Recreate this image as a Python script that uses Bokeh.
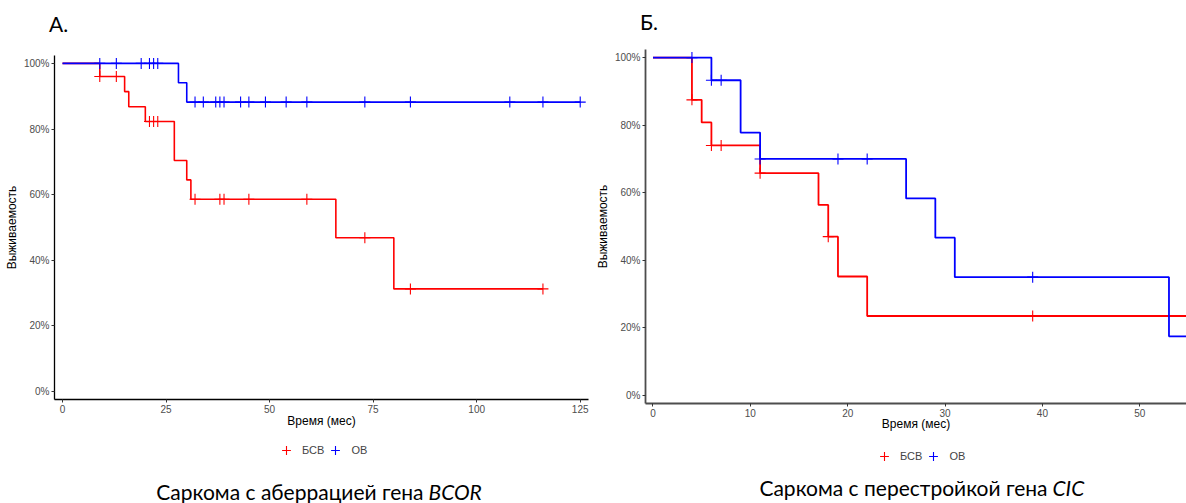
import numpy as np
from bokeh.plotting import figure
from bokeh.models import (Label, Legend, LegendItem, FixedTicker,
                          NumeralTickFormatter, Range1d, Div)
from bokeh.layouts import row, column
from bokeh.embed import file_html
from bokeh.resources import INLINE

RED = "#FF0000"
BLUE = "#0000FF"

# ---------------- Panel A: BCOR ----------------
a_bsv_time = [0, 9, 15, 16, 20, 27, 30, 31, 66, 80]
a_bsv_surv = [1.0, 0.96, 0.914, 0.868, 0.823, 0.704, 0.645, 0.586, 0.469, 0.313]
a_bsv_cens = [9, 13, 21, 22, 23, 32, 38, 39, 45, 59, 73, 84, 116]
a_bsv_end = 116

a_ov_time = [0, 28, 30]
a_ov_surv = [1.0, 0.941, 0.882]
a_ov_cens = [9, 13, 19, 21, 22, 23, 32, 34, 37, 38, 39, 43, 45, 49, 54, 59,
             73, 84, 108, 116, 125]
a_ov_end = 125

a_xticks = [0, 25, 50, 75, 100, 125]

# ---------------- Panel B: CIC ----------------
b_bsv_time = [0, 4, 5, 6, 11, 17, 18, 19, 22]
b_bsv_surv = [1.0, 0.875, 0.808, 0.740, 0.658, 0.564, 0.470, 0.352, 0.235]
b_bsv_cens = [4, 6, 7, 11, 18, 39]
b_bsv_end = 57

b_ov_time = [0, 6, 9, 11, 26, 29, 31, 53]
b_ov_surv = [1.0, 0.933, 0.778, 0.70, 0.583, 0.467, 0.35, 0.175]
b_ov_cens = [4, 6, 7, 11, 19, 22, 39]
b_ov_end = 57

b_xticks = [0, 10, 20, 30, 40, 50]

y_ticks = [0, 0.2, 0.4, 0.6, 0.8, 1.0]
series_labels = ["БСВ", "ОВ"]
series_colors = [RED, BLUE]

titles = [("Саркома с аберрацией гена", "BCOR"),
          ("Саркома с перестройкой гена", "CIC")]
letters = ["А.", "Б."]


def surv_at(times, surv, ts):
    idx = np.searchsorted(np.array(times), np.array(ts), side="right") - 1
    return [surv[i] for i in idx]


def strip(width, height, x0, x1, y0, y1):
    s = figure(width=width, height=height, x_range=Range1d(x0, x1),
               y_range=Range1d(y0, y1), output_backend="svg",
               toolbar_location=None, min_border=0, title=None)
    s.axis.visible = False
    s.xgrid.visible = False
    s.ygrid.visible = False
    s.outline_line_color = None
    s.background_fill_color = "white"
    s.border_fill_color = "white"
    return s


def letter_div(letter, width, height, pad_top, pad_left):
    html = ('<div style="padding:%dpx 0 0 %dpx;font-family:Lato;'
            'font-size:21px;line-height:21px;color:#000000;">%s</div>'
            % (pad_top, pad_left, letter))
    return Div(text=html, width=width, height=height, margin=0)


def make_panel(fw, fh, xr, borders, curves, xticks, axis_color, axis_w, lw,
               xlab_standoff):
    p = figure(frame_width=fw, frame_height=fh, x_range=Range1d(*xr),
               y_range=Range1d(-0.024, 1.024), output_backend="svg",
               toolbar_location=None, title=None,
               min_border_left=borders[0], min_border_right=borders[1],
               min_border_top=borders[2], min_border_bottom=borders[3])
    p.outline_line_color = None
    p.xgrid.visible = False
    p.ygrid.visible = False
    p.background_fill_color = "white"
    p.border_fill_color = "white"

    for (times, surv, cens, end, color) in curves:
        xs = list(times) + [end]
        ys = list(surv) + [surv[-1]]
        p.step(xs, ys, mode="after", line_color=color, line_width=lw)
        p.scatter(cens, surv_at(times, surv, cens), marker="cross",
                  size=11, line_color=color, line_width=1.1)

    for ax in (p.xaxis[0], p.yaxis[0]):
        ax.axis_line_color = axis_color
        ax.axis_line_width = axis_w
        ax.major_tick_line_color = "#333333"
        ax.major_tick_out = 3
        ax.major_tick_in = 0
        ax.minor_tick_line_color = None
        ax.major_label_text_font = "Liberation Sans"
        ax.major_label_text_font_size = "10px"
        ax.major_label_text_color = "#4D4D4D"
        ax.axis_label_text_font = "Liberation Sans"
        ax.axis_label_text_font_size = "12px"
        ax.axis_label_text_font_style = "normal"
        ax.axis_label_text_color = "#000000"
        ax.major_label_standoff = 2
        ax.axis_label_standoff = 2
    p.xaxis.axis_label_standoff = xlab_standoff

    p.xaxis.ticker = FixedTicker(ticks=xticks)
    p.yaxis.ticker = FixedTicker(ticks=y_ticks)
    p.yaxis.formatter = NumeralTickFormatter(format="0%")
    p.xaxis.axis_label = "Время (мес)"
    p.yaxis.axis_label = "Выживаемость"
    return p


# ---------------- top: panel letters ----------------
ptA = letter_div(letters[0], 589, 40, 13, 49)
ptB = letter_div(letters[1], 597, 34, 11, 51)

pA = make_panel(
    534, 344, (-1.93, 127), (54, 1, 15, 37),
    [(a_bsv_time, a_bsv_surv, a_bsv_cens, a_bsv_end, RED),
     (a_ov_time, a_ov_surv, a_ov_cens, a_ov_end, BLUE)],
    a_xticks, "#000000", 1.3, 1.6, -2)

pB = make_panel(
    541, 354, (-0.77, 54.8), (56, 0, 15, 33),
    [(b_bsv_time, b_bsv_surv, b_bsv_cens, b_bsv_end, RED),
     (b_ov_time, b_ov_surv, b_ov_cens, b_ov_end, BLUE)],
    b_xticks, "#4D4D4D", 1.8, 1.8, -3)

# ---------------- bottom strip: legends and captions ----------------
pc = strip(1186, 67, 0, 1186, 503, 436)

# legend key renderers (points lie outside the visible strip)
key_r = [pc.scatter([-50], [-50], marker="cross", size=11,
                    line_color=c, line_width=1.1) for c in series_colors]

for (lx, ly) in [(275, 42), (873, 36)]:
    leg = Legend(items=[LegendItem(label=lab, renderers=[r])
                        for lab, r in zip(series_labels, key_r)],
                 orientation="horizontal", location=(lx, ly),
                 border_line_color=None, background_fill_alpha=0,
                 label_text_font="Liberation Sans", label_text_font_size="11px",
                 glyph_width=22, glyph_height=22, label_height=22,
                 label_standoff=5, spacing=0, padding=0, margin=0)
    pc.add_layout(leg)

for (main, ital), (sx, sy) in zip(titles, [(423, 491), (1047, 487)]):
    pc.add_layout(Label(x=sx, y=sy, text=main, text_font="Lato",
                        text_font_size="21px", text_baseline="middle",
                        text_align="right", text_color="#000000"))
    pc.add_layout(Label(x=sx + 5, y=sy, text=ital, text_font="Lato",
                        text_font_size="21px", text_font_style="italic",
                        text_baseline="middle", text_align="left",
                        text_color="#000000"))

layout = column(row(column(ptA, pA, spacing=0), column(ptB, pB, spacing=0),
                    spacing=0),
                pc, spacing=0)
open("out.html", "w").write(file_html(layout, INLINE))
